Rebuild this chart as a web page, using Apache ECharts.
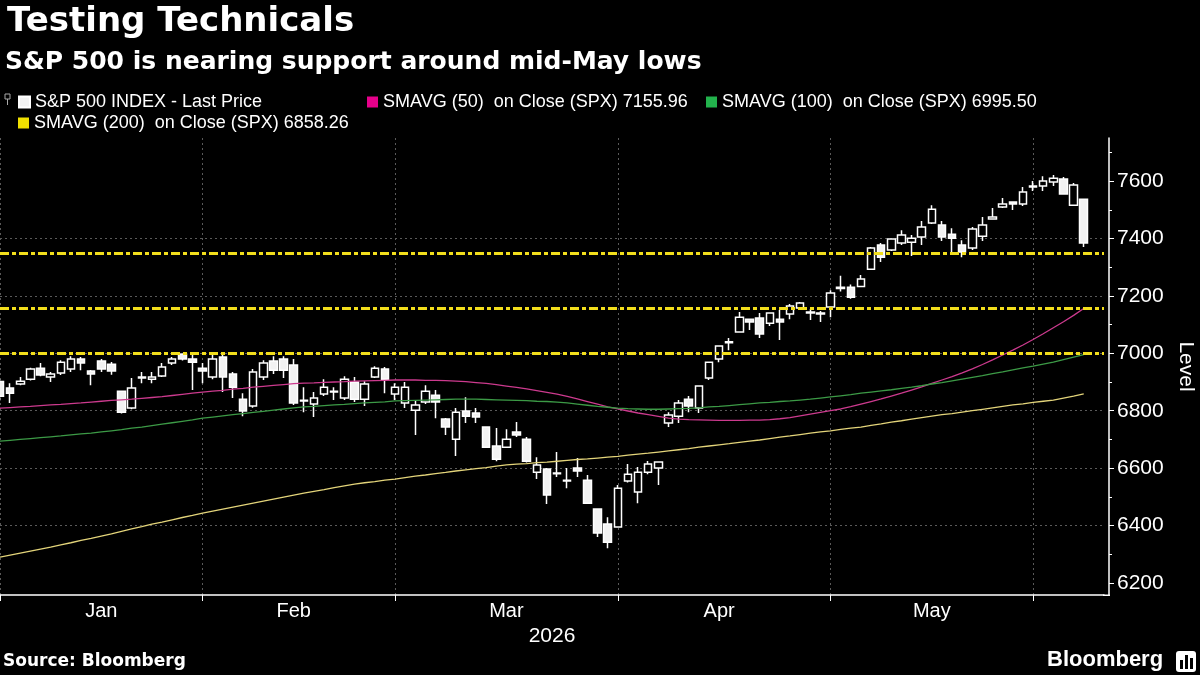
<!DOCTYPE html>
<html>
<head>
<meta charset="utf-8">
<script src="https://cdn.jsdelivr.net/npm/echarts@6/dist/echarts.min.js"></script>
<style>
  html, body { margin: 0; padding: 0; background: #000; }
  #chart { width: 1200px; height: 675px; }
</style>
</head>
<body>
<div id="chart"></div>
<script>
// 数据
var monthNames = ['Jan', 'Feb', 'Mar', 'Apr', 'May', 'Jun', 'Jul', 'Aug', 'Sep', 'Oct', 'Nov', 'Dec'];
var marketHolidays = ['2026-01-19', '2026-02-16', '2026-04-03', '2026-05-25'];
var yTicks = [6200, 6400, 6600, 6800, 7000, 7200, 7400, 7600];
var supportLevels = [7350, 7156, 7000];

// [open, close, low, high]
var spxOHLC = [
  [6902,6850,6835,6910],[6879,6861,6827,6896],[6893,6903,6889,6917],[6910,6945,6905,6950],
  [6948,6924,6920,6966],[6917,6928,6900,6935],[6931,6969,6924,6976],[6945,6980,6935,6990],
  [6980,6966,6941,6987],[6938,6928,6889,6942],[6973,6945,6935,6980],[6962,6938,6925,6970],
  [6868,6795,6790,6870],[6809,6879,6805,6914],[6914,6917,6896,6935],[6910,6917,6896,6935],
  [6921,6952,6917,6966],[6966,6980,6959,6987],[6997,6980,6975,7000],[6980,6969,6872,6994],
  [6948,6938,6896,6966],[6917,6980,6910,6994],[6987,6917,6865,6994],[6928,6882,6844,6935],
  [6840,6799,6781,6861],[6816,6935,6810,6945],[6917,6966,6907,6976],[6973,6941,6928,6990],
  [6980,6941,6914,6990],[6959,6827,6820,6980],[6834,6836,6795,6882],[6823,6844,6778,6865],
  [6858,6882,6851,6910],[6865,6868,6837,6882],[6844,6910,6837,6920],[6900,6840,6830,6917],
  [6840,6893,6816,6903],[6917,6948,6914,6955],[6945,6910,6861,6952],[6858,6882,6837,6896],
  [6827,6882,6809,6900],[6802,6820,6715,6837],[6830,6868,6823,6889],[6854,6830,6774,6872],
  [6771,6743,6715,6775],[6701,6795,6642,6809],[6799,6781,6757,6847],[6792,6778,6757,6809],
  [6743,6673,6670,6745],[6677,6631,6624,6740],[6673,6701,6670,6735],[6726,6715,6708,6761],
  [6701,6624,6620,6708],[6586,6611,6562,6638],[6597,6506,6475,6600],[6580,6583,6569,6656],
  [6555,6558,6530,6600],[6600,6590,6569,6635],[6558,6478,6478,6576],[6458,6374,6360,6460],
  [6405,6342,6321,6429],[6395,6530,6393,6541],[6555,6579,6550,6614],[6517,6586,6478,6604],
  [6586,6614,6579,6625],[6600,6621,6541,6623],[6757,6785,6743,6795],[6781,6827,6757,6837],
  [6840,6816,6795,6851],[6809,6886,6792,6889],[6914,6969,6907,6971],[6980,7025,6969,7027],
  [7037,7040,7011,7053],[7074,7126,7074,7144],[7119,7109,7081,7121],[7123,7067,7053,7140],
  [7105,7140,7095,7142],[7119,7109,7046,7151],[7137,7165,7119,7172],[7158,7175,7154,7179],
  [7140,7144,7116,7154],[7137,7140,7109,7147],[7161,7210,7126,7220],[7226,7230,7215,7270],
  [7230,7195,7190,7240],[7233,7259,7230,7273],[7293,7367,7293,7370],[7377,7335,7318,7384],
  [7360,7398,7356,7400],[7384,7412,7377,7429],[7387,7401,7339,7412],[7405,7440,7377,7461],
  [7454,7502,7450,7516],[7447,7405,7391,7461],[7415,7401,7349,7436],[7377,7353,7335,7394],
  [7367,7433,7360,7440],[7408,7447,7391,7475],[7468,7475,7465,7506],[7510,7520,7506,7541],
  [7527,7520,7499,7530],[7520,7562,7513,7579],[7579,7583,7565,7600],[7583,7600,7565,7617],
  [7597,7610,7583,7621],[7607,7555,7555,7614],[7516,7586,7516,7593],[7537,7384,7370,7537]
];

var sma50 = [
  6809,6811,6813,6815,6818,6820,6822,6825,6827,6830,
  6833,6836,6838,6840,6843,6846,6849,6853,6857,6861,
  6865,6868,6871,6875,6878,6882,6885,6888,6891,6894,
  6896,6897,6899,6900,6901,6903,6904,6905,6906,6907,
  6907,6907,6906,6906,6905,6903,6901,6898,6895,6891,
  6886,6881,6876,6870,6864,6858,6850,6841,6832,6823,
  6813,6806,6799,6792,6786,6780,6774,6771,6769,6768,
  6767,6766,6766,6766,6767,6767,6769,6772,6776,6782,
  6788,6794,6800,6806,6814,6823,6832,6841,6851,6861,
  6872,6883,6895,6907,6919,6932,6946,6961,6977,6994,
  7011,7029,7048,7068,7089,7110,7132,7156
];

var sma100 = [
  6694,6697,6700,6703,6706,6709,6712,6716,6719,6722,
  6726,6730,6734,6739,6743,6748,6753,6758,6763,6768,
  6774,6778,6782,6786,6790,6794,6798,6802,6806,6810,
  6813,6815,6818,6820,6822,6825,6827,6829,6831,6834,
  6835,6836,6837,6838,6839,6840,6840,6840,6839,6838,
  6837,6836,6835,6833,6832,6830,6827,6823,6819,6815,
  6812,6809,6807,6806,6805,6805,6806,6807,6808,6810,
  6813,6815,6818,6821,6824,6827,6829,6832,6834,6837,
  6840,6844,6848,6852,6856,6861,6865,6869,6873,6878,
  6882,6887,6893,6898,6904,6910,6916,6922,6929,6935,
  6942,6949,6955,6962,6969,6978,6987,6995.5
];

var sma200 = [
  6290,6297,6304,6311,6318,6325,6333,6340,6348,6355,
  6363,6371,6380,6388,6396,6405,6412,6420,6428,6435,
  6443,6450,6457,6464,6471,6478,6485,6492,6499,6506,
  6513,6519,6525,6532,6538,6544,6549,6553,6558,6562,
  6567,6572,6576,6581,6585,6590,6594,6598,6602,6607,
  6611,6614,6616,6619,6621,6624,6627,6630,6632,6635,
  6638,6641,6645,6649,6652,6656,6660,6664,6668,6673,
  6677,6681,6685,6690,6694,6698,6703,6708,6712,6717,
  6722,6726,6730,6735,6739,6743,6749,6754,6760,6765,
  6771,6776,6781,6786,6790,6795,6800,6805,6810,6815,
  6820,6824,6829,6833,6837,6844,6851,6858.26
];

var NAME_SPX = 'S&P 500 INDEX - Last Price';
var NAME_50 = 'SMAVG (50)  on Close (SPX) 7155.96';
var NAME_100 = 'SMAVG (100)  on Close (SPX) 6995.50';
var NAME_200 = 'SMAVG (200)  on Close (SPX) 6858.26';

// 交易日（含末尾两个空位）
var tradingDays = [];
(function () {
  var d = new Date(Date.UTC(2026, 0, 2));
  while (tradingDays.length < 110) {
    var s = d.toISOString().slice(0, 10);
    var wd = d.getUTCDay();
    if (wd !== 0 && wd !== 6 && marketHolidays.indexOf(s) < 0) tradingDays.push(s);
    d.setUTCDate(d.getUTCDate() + 1);
  }
})();

// 月份分界与月份标签位置
var monthStart = {}, monthLabelAt = {};
var byMonth = {};
tradingDays.forEach(function (s, i) {
  var m = s.slice(0, 7);
  if (!byMonth[m]) { byMonth[m] = [i, i]; monthStart[i] = true; }
  byMonth[m][1] = i;
});
Object.keys(byMonth).forEach(function (m) {
  var r = byMonth[m];
  if (r[1] - r[0] + 1 >= 15) monthLabelAt[Math.floor((r[0] + r[1] + 1) / 2)] = true;
});

var font = "'Liberation Sans', Arial, sans-serif";
var gridColor = '#5a5a5a';

var chart = echarts.init(document.getElementById('chart'));

function legendBox(name, color, left, top) {
  return {
    data: [{ name: name, icon: 'rect', itemStyle: { color: color } }],
    left: left, top: top,
    itemWidth: 11, itemHeight: 11,
    selectedMode: false,
    textStyle: { color: '#fff', fontSize: 18, fontFamily: font }
  };
}

var option = {
  backgroundColor: '#000',
  animation: false,
  title: [
    { text: 'Testing Technicals', left: 2, top: 0,
      textStyle: { color: '#fff', fontSize: 34, fontWeight: 'bold', fontFamily: 'DejaVu Sans' } },
    { text: 'S&P 500 is nearing support around mid-May lows', left: 0, top: 45,
      textStyle: { color: '#fff', fontSize: 25, fontWeight: 'bold', fontFamily: 'DejaVu Sans' } }
  ],
  legend: [
    legendBox(NAME_SPX, '#f2f2f2', 13, 88),
    legendBox(NAME_50, '#e6008a', 362, 88),
    legendBox(NAME_100, '#22b24c', 701, 88),
    legendBox(NAME_200, '#f0e000', 13, 109)
  ],
  grid: { left: 0, right: 96, top: 138, bottom: 80, containLabel: false, outerBoundsMode: 'none' },
  xAxis: {
    type: 'category',
    data: tradingDays,
    boundaryGap: false,
    axisLine: { lineStyle: { color: '#fff', width: 1.5 } },
    axisTick: { interval: function (i) { return !!monthStart[i]; }, length: 6, lineStyle: { color: '#fff' } },
    axisLabel: {
      interval: function (i) { return !!monthLabelAt[i]; },
      formatter: function (v) { return monthNames[+v.slice(5, 7) - 1]; },
      color: '#fff', fontSize: 20, fontFamily: font, margin: 6
    },
    splitLine: { show: true, interval: function (i) { return !!monthStart[i]; },
      lineStyle: { color: gridColor, type: [2, 3], width: 1 } },
    name: '2026', nameLocation: 'middle', nameGap: 30,
    nameTextStyle: { color: '#fff', fontSize: 21, fontFamily: font }
  },
  yAxis: {
    type: 'value',
    position: 'right',
    offset: 5,
    min: 6158, max: 7750,
    splitNumber: 8,
    axisLine: { show: true, lineStyle: { color: '#fff', width: 1.5 } },
    axisTick: { show: true, length: 5, customValues: yTicks, lineStyle: { color: '#fff' } },
    minorTick: { show: true, splitNumber: 2, length: 3, lineStyle: { color: '#fff' } },
    axisLabel: { customValues: yTicks, formatter: function (v) { return String(v); },
      color: '#fff', fontSize: 21, fontFamily: font, margin: 8 },
    splitLine: { show: true, showMinLine: false, showMaxLine: false,
      lineStyle: { color: gridColor, type: [2, 3], width: 1 } },
    name: 'Level', nameLocation: 'middle', nameRotate: -90, nameGap: 66,
    nameTextStyle: { color: '#fff', fontSize: 21, fontFamily: font }
  },
  series: [
    {
      name: NAME_SPX,
      type: 'candlestick',
      data: spxOHLC,
      barWidth: 8,
      itemStyle: { color: '#000', color0: '#f2f2f2', borderColor: '#fff', borderColor0: '#fff', borderWidth: 1.5 }
    },
    {
      name: NAME_50, type: 'line', data: sma50, symbol: 'none', z: 3,
      lineStyle: { color: '#cc3a8e', width: 1.3 }, itemStyle: { color: '#e6008a' }
    },
    {
      name: NAME_100, type: 'line', data: sma100, symbol: 'none', z: 3,
      lineStyle: { color: '#3c9a46', width: 1.3 }, itemStyle: { color: '#22b24c' }
    },
    {
      name: NAME_200, type: 'line', data: sma200, symbol: 'none', z: 3,
      lineStyle: { color: '#e3d47a', width: 1.3 }, itemStyle: { color: '#f0e000' },
      markLine: {
        silent: true,
        symbol: ['none', 'none'],
        label: { show: false },
        lineStyle: { color: '#f2de1c', width: 3, type: [9, 3, 4, 3] },
        data: supportLevels.map(function (v) { return { yAxis: v }; })
      }
    }
  ],
  graphic: [
    // 图例里的小蜡烛图标
    { type: 'rect', shape: { x: 5, y: 94, width: 5, height: 5 }, style: { fill: 'none', stroke: '#aaa', lineWidth: 1 } },
    { type: 'line', shape: { x1: 7.5, y1: 99, x2: 7.5, y2: 105 }, style: { stroke: '#aaa', lineWidth: 1 } },
    // x 轴与右侧轴相接
    { type: 'line', shape: { x1: 1103, y1: 595.25, x2: 1110, y2: 595.25 }, style: { stroke: '#fff', lineWidth: 1.5 } },
    { type: 'text', left: 3, top: 653,
      style: { text: 'Source: Bloomberg', fill: '#fff', font: "bold 17px 'DejaVu Sans'" } },
    { type: 'text', left: 1047, top: 649,
      style: { text: 'Bloomberg', fill: '#fff', font: "bold 22px 'Liberation Sans'" } },
    { type: 'rect', shape: { x: 1176, y: 651, width: 20, height: 21, r: 3 }, style: { fill: '#fff' } },
    { type: 'rect', shape: { x: 1180, y: 660, width: 3, height: 9 }, style: { fill: '#000' } },
    { type: 'rect', shape: { x: 1185, y: 655, width: 3, height: 14 }, style: { fill: '#000' } },
    { type: 'rect', shape: { x: 1190, y: 658, width: 3, height: 11 }, style: { fill: '#000' } }
  ]
};

chart.setOption(option);
</script>
</body>
</html>
